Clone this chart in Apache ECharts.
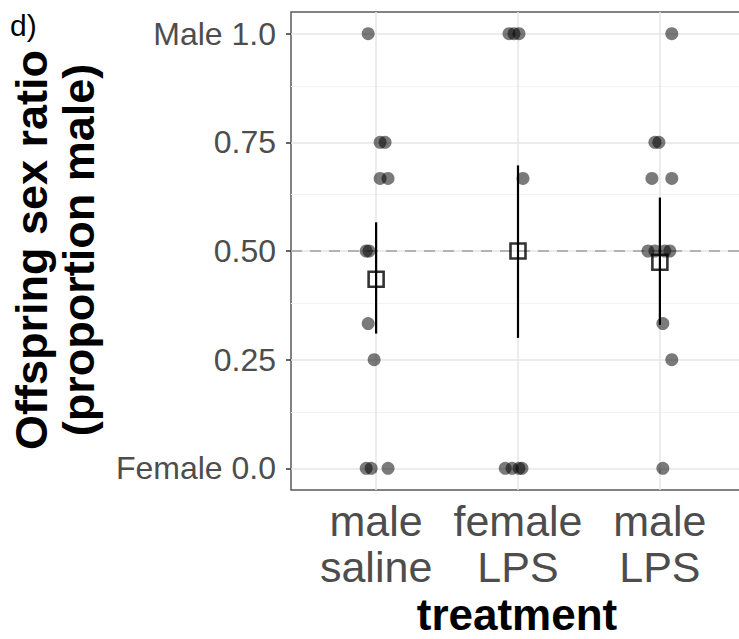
<!DOCTYPE html>
<html>
<head>
<meta charset="utf-8">
<script src="https://cdn.jsdelivr.net/npm/echarts@6/dist/echarts.min.js"></script>
<style>
  html, body { margin: 0; padding: 0; background: #fff; }
  #chart { width: 739px; height: 639px; }
</style>
</head>
<body>
<div id="chart"></div>
<script>
// Treatment groups along the x axis
const treatments = ['male saline', 'female LPS', 'male LPS'];

// Y axis ticks and their labels
const yTicks = [0, 0.25, 0.5, 0.75, 1];
const yTickLabels = ['Female 0.0', '0.25', '0.50', '0.75', 'Male 1.0'];

// Per-litter offspring sex ratio (proportion male) with horizontal jitter
const ratioMaleSaline  = [1, 0.75, 0.75, 0.667, 0.667, 0.5, 0.5, 0.333, 0.25, 0, 0, 0];
const jitterMaleSaline = [-0.056, 0.028, 0.063, 0.028, 0.084, -0.07, -0.05, -0.056, -0.014, -0.07, -0.035, 0.084];

const ratioFemaleLPS  = [1, 1, 1, 0.667, 0, 0, 0, 0];
const jitterFemaleLPS = [-0.063, -0.028, 0.007, 0.035, -0.09, -0.042, 0.007, 0.028];

const ratioMaleLPS  = [1, 0.75, 0.75, 0.667, 0.667, 0.5, 0.5, 0.5, 0.5, 0.333, 0.25, 0];
const jitterMaleLPS = [0.084, -0.035, -0.007, -0.056, 0.084, -0.084, -0.035, 0.035, 0.07, 0.021, 0.084, 0.021];

// Model estimates with confidence intervals
const estMean = [0.435, 0.5, 0.474];
const ciLower = [0.31, 0.30, 0.33];
const ciUpper = [0.566, 0.697, 0.623];

// Reference line for an even sex ratio
const evenRatio = 0.5;

const groups = [
  [ratioMaleSaline, jitterMaleSaline],
  [ratioFemaleLPS, jitterFemaleLPS],
  [ratioMaleLPS, jitterMaleLPS]
];
const pointData = [];
groups.forEach(([ratios, jit], gi) => {
  ratios.forEach((r, i) => pointData.push([gi + 1 + jit[i], r]));
});

const catPositions = treatments.map((_, i) => i + 1);
const minorTicks = yTicks.slice(1).map((v, i) => (v + yTicks[i]) / 2);

const FONT = '"Liberation Sans", Arial, Helvetica, sans-serif';

const gridLines = [
  ...minorTicks.map(v => ({ yAxis: v, lineStyle: { color: '#f3f3f3', width: 1, type: 'solid' } })),
  ...yTicks.map(v => ({ yAxis: v, lineStyle: { color: '#e6e6e6', width: 1.5, type: 'solid' } })),
  ...catPositions.map(v => ({ xAxis: v, lineStyle: { color: '#e6e6e6', width: 1.5, type: 'solid' } })),
  { yAxis: evenRatio, lineStyle: { color: '#a0a0a0', width: 1.6, type: [11, 8] } }
];

const chart = echarts.init(document.getElementById('chart'), null, { renderer: 'svg' });
chart.setOption({
  animation: false,
  backgroundColor: '#fff',
  grid: {
    left: 291, top: 12, right: -6, bottom: 149,
    outerBoundsMode: 'none', containLabel: false,
    show: true, borderColor: '#5a5a5a', borderWidth: 1.5, backgroundColor: 'transparent'
  },
  xAxis: {
    type: 'value', min: 0.4, max: 3.6,
    splitLine: { show: false },
    axisLine: { show: false },
    axisTick: { show: true, customValues: catPositions, length: 5, lineStyle: { color: '#333', width: 1.5 } },
    axisLabel: {
      customValues: catPositions,
      formatter: v => treatments[Math.round(v) - 1].replace(' ', '\n'),
      fontFamily: FONT, fontSize: 43, lineHeight: 46, color: '#4d4d4d', margin: 8
    }
  },
  yAxis: {
    type: 'value', min: -0.05, max: 1.05,
    splitLine: { show: false },
    axisLine: { show: false },
    axisTick: { show: true, customValues: yTicks, length: 5, lineStyle: { color: '#333', width: 1.5 } },
    axisLabel: {
      customValues: yTicks,
      formatter: v => yTickLabels[yTicks.indexOf(v)],
      fontFamily: FONT, fontSize: 32, color: '#4d4d4d', margin: 15
    }
  },
  graphic: [
    {
      type: 'text', left: 10, top: 10,
      style: { text: 'd)', fontFamily: FONT, fontSize: 30, fill: '#000' }
    },
    {
      type: 'text', x: 55, y: 250, rotation: Math.PI / 2,
      style: {
        text: 'Offspring sex ratio\n(proportion male)',
        fontFamily: FONT, fontSize: 45, fontWeight: 'bold', fill: '#000',
        align: 'center', verticalAlign: 'middle', lineHeight: 47
      }
    },
    {
      type: 'text', x: 517, y: 614,
      style: {
        text: 'treatment', fontFamily: FONT, fontSize: 44, fontWeight: 'bold', fill: '#000',
        align: 'center', verticalAlign: 'middle'
      }
    }
  ],
  series: [
    {
      type: 'line', data: [], silent: true, z: 1,
      markLine: { z: 1, silent: true, symbol: 'none', label: { show: false }, animation: false, data: gridLines }
    },
    {
      type: 'scatter', data: pointData, z: 3, silent: true,
      symbolSize: 13,
      itemStyle: { color: 'rgba(0,0,0,0.65)' }
    },
    {
      type: 'custom', z: 4, silent: true,
      data: catPositions.map((x, i) => [x, ciLower[i], ciUpper[i]]),
      renderItem: (params, api) => {
        const p1 = api.coord([api.value(0), api.value(1)]);
        const p2 = api.coord([api.value(0), api.value(2)]);
        return {
          type: 'rect',
          shape: { x: p1[0] - 1.1, y: p2[1], width: 2.2, height: p1[1] - p2[1] },
          style: { fill: '#000', opacity: 1 }
        };
      }
    },
    {
      type: 'scatter', z: 5, silent: true,
      data: catPositions.map((x, i) => [x, estMean[i]]),
      symbol: 'rect', symbolSize: 15,
      itemStyle: { color: 'rgba(255,255,255,0)', borderColor: '#000', borderWidth: 2.6 }
    }
  ]
});
</script>
</body>
</html>
